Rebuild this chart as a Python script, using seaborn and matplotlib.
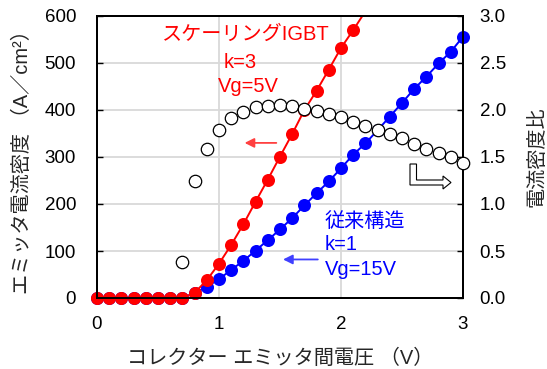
import numpy as np
import pandas as pd
import matplotlib
matplotlib.use("Agg")
import matplotlib.pyplot as plt
import seaborn as sns
from matplotlib.patches import Polygon

# Collector-emitter voltage (V), 0.1 V steps
voltage = [0.0, 0.1, 0.2, 0.3, 0.4, 0.5, 0.6, 0.7, 0.8, 0.9,
           1.0, 1.1, 1.2, 1.3, 1.4, 1.5, 1.6, 1.7, 1.8, 1.9,
           2.0, 2.1, 2.2, 2.3, 2.4, 2.5, 2.6, 2.7, 2.8, 2.9, 3.0]

# Emitter current density (A/cm2), scaled IGBT (k=3, Vg=5V), 0.0 .. 2.2 V
scaled_igbt = [0, 0, 0, 0, 0, 0, 0, 0, 11, 38,
               73, 113, 157, 205, 252, 301, 349, 400, 441, 486,
               532, 570, 610]

# Emitter current density (A/cm2), conventional structure (k=1, Vg=15V)
conventional = [0, 0, 0, 0, 0, 0, 0, 1, 10, 24,
                40, 60, 79, 101, 123, 146, 170, 197, 223, 248,
                276, 305, 329, 357, 386, 415, 445, 471, 499, 524, 556]

# Current density ratio, 0.7 .. 3.0 V
ratio_voltage = voltage[7:]
ratio = [0.38, 1.25, 1.58, 1.79, 1.91, 1.98, 2.03, 2.045, 2.05, 2.04,
         2.015, 1.99, 1.96, 1.925, 1.875, 1.83, 1.785, 1.74, 1.70, 1.64,
         1.585, 1.54, 1.50, 1.435]

sns.set_theme(style="white")
plt.rcParams["font.family"] = ["Liberation Sans", "Noto Sans CJK JP"]
plt.rcParams["axes.unicode_minus"] = False

W, H = 547, 369
fig = plt.figure(figsize=(W / 100, H / 100), dpi=100)
L, R, B, T = 97, 463, 298, 16
ax = fig.add_axes([L / W, 1 - B / H, (R - L) / W, (B - T) / H])

df_s = pd.DataFrame({"V": voltage[:len(scaled_igbt)], "J": scaled_igbt})
df_c = pd.DataFrame({"V": voltage, "J": conventional})
df_r = pd.DataFrame({"V": ratio_voltage, "ratio": ratio})

YMAX = 600
RED, BLUE = "#ff0000", "#0000ff"
FS_TICK, FS_TEXT = 13.5, 14.5

# conventional structure
sns.lineplot(data=df_c, x="V", y="J", color=BLUE, lw=1.4, ax=ax, zorder=3)
sns.scatterplot(data=df_c[df_c.J <= YMAX], x="V", y="J", color=BLUE, s=88,
                linewidth=0, ax=ax, zorder=4, clip_on=False)
# scaled IGBT
sns.lineplot(data=df_s, x="V", y="J", color=RED, lw=1.4, ax=ax, zorder=5)
sns.scatterplot(data=df_s[df_s.J <= YMAX], x="V", y="J", color=RED, s=88,
                linewidth=0, ax=ax, zorder=6, clip_on=False)

ax.set_xlim(0, 3)
ax.set_ylim(0, YMAX)
ax.set_xticks([0, 1, 2, 3])
ax.set_yticks(range(0, 601, 100))
ax.grid(True, color="#d9d9d9", lw=1.3)
ax.set_axisbelow(True)
for sp in ax.spines.values():
    sp.set_color("black")
    sp.set_linewidth(1.4)
    sp.set_visible(True)
ax.tick_params(axis="x", direction="in", length=4, width=1.0,
               colors="black", labelsize=FS_TICK, pad=13)
ax.tick_params(axis="y", direction="in", length=4, width=1.0,
               colors="black", labelsize=FS_TICK, pad=15)

ax.set_xlabel("コレクター エミッタ間電圧 （V）", fontsize=FS_TEXT, va="center")
ax.xaxis.set_label_coords(0.5, (B - 358) / (B - T))
ax.set_ylabel("エミッタ電流密度 （A／cm²）", fontsize=FS_TEXT, va="center")
ax.yaxis.set_label_coords((22 - L) / (R - L), 0.5)

# ratio on the secondary axis
ax2 = ax.twinx()
sns.scatterplot(data=df_r, x="V", y="ratio", facecolor="white",
                edgecolor="black", s=80, linewidth=0.9, ax=ax2, zorder=7,
                clip_on=False)
ax2.set_ylim(0, 3)
ax2.set_yticks(np.arange(0, 3.01, 0.5))
ax2.set_yticklabels([f"{t:.1f}" for t in np.arange(0, 3.01, 0.5)])
ax2.tick_params(axis="y", direction="in", length=4, width=1.0,
                colors="black", labelsize=FS_TICK, pad=12)
for sp in ax2.spines.values():
    sp.set_color("black")
    sp.set_linewidth(1.4)
ax2.set_ylabel("電流密度比", fontsize=FS_TEXT, va="center", rotation=90)
ax2.yaxis.set_label_coords((537 - L) / (R - L), 0.5)

# annotations
ax.text(1.217, 560, "スケーリングIGBT", color=RED, fontsize=FS_TEXT,
        ha="center", va="center", zorder=8)
ax.text(1.17, 502, "k=3", color=RED, fontsize=FS_TEXT, ha="center",
        va="center", zorder=8)
ax.text(1.24, 450, "Vg=5V", color=RED, fontsize=FS_TEXT, ha="center",
        va="center", zorder=8)

ax.text(1.869, 163, "従来構造", color=BLUE, fontsize=FS_TEXT, ha="left",
        va="center", zorder=8)
ax.text(1.869, 113, "k=1", color=BLUE, fontsize=FS_TEXT, ha="left",
        va="center", zorder=8)
ax.text(1.869, 60, "Vg=15V", color=BLUE, fontsize=FS_TEXT, ha="left",
        va="center", zorder=8)

ax.annotate("", xy=(1.21, 330), xytext=(1.47, 330),
            arrowprops=dict(arrowstyle="-|>", color="#ff4040", lw=1.3,
                            mutation_scale=14, shrinkA=0, shrinkB=0),
            zorder=8)
ax.annotate("", xy=(1.525, 82), xytext=(1.81, 82),
            arrowprops=dict(arrowstyle="-|>", color="#4040ff", lw=1.3,
                            mutation_scale=14, shrinkA=0, shrinkB=0),
            zorder=8)

# hollow L-shaped arrow pointing to the right-hand axis
pts_px = [(410, 164), (410, 185), (443, 185), (443, 189), (451, 182.5),
          (443, 176), (443, 180), (416.5, 180), (416.5, 164)]
pts = [((x - L) / (R - L), (B - y) / (B - T)) for x, y in pts_px]
ax2.add_patch(Polygon(pts, closed=True, facecolor="white", edgecolor="black",
                      lw=0.8, transform=ax2.transAxes, zorder=9))

fig.savefig("out.png", dpi=100)
